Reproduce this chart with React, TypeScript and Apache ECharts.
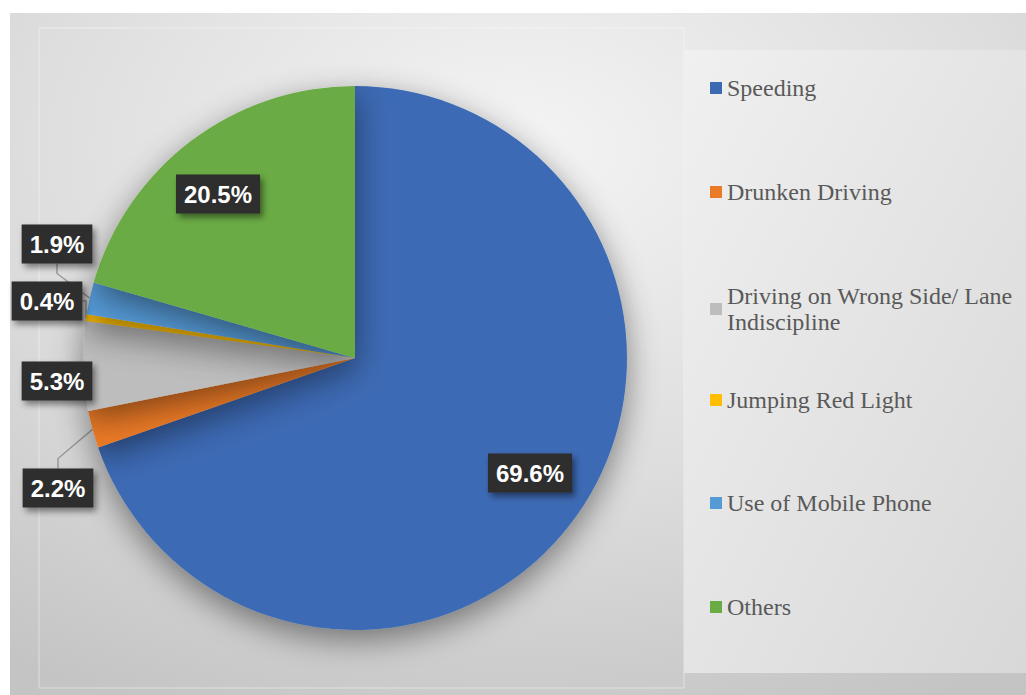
import React, { useEffect, useRef } from "react";
import * as echarts from "echarts";

const categories = [
  "Speeding",
  "Drunken Driving",
  "Driving on Wrong Side/ Lane Indiscipline",
  "Jumping Red Light",
  "Use of Mobile Phone",
  "Others",
];
const legendLabels = [
  "Speeding",
  "Drunken Driving",
  "Driving on Wrong Side/ Lane\nIndiscipline",
  "Jumping Red Light",
  "Use of Mobile Phone",
  "Others",
];
const shares = [69.6, 2.2, 5.3, 0.4, 1.9, 20.5];
const colors = ["#3C6BB4", "#EB7A26", "#BDBDBD", "#FFBF00", "#5599D5", "#6AAB44"];
// label box centres (style)
const labelPos: [number, number][] = [
  [530, 473],
  [58, 488],
  [57, 381],
  [47, 301],
  [57, 244],
  [218, 194],
];
const insideLabel = [true, false, false, false, false, true];
const legendTops = [70, 174, 265, 382, 485, 589];

export default function App() {
  const ref = useRef<HTMLDivElement>(null);
  useEffect(() => {
    document.body.style.margin = "0";
    const chart = echarts.init(ref.current!, null, { renderer: "svg" });
    const legends = categories.map((name, i) => ({
      data: [name],
      orient: "vertical" as const,
      left: 705,
      top: legendTops[i],
      icon: "rect",
      itemWidth: 12,
      itemHeight: 12,
      itemGap: 6,
      selectedMode: false,
      formatter: () => legendLabels[i],
      textStyle: {
        fontFamily: "'Liberation Serif', 'Times New Roman', serif",
        fontSize: 24,
        color: "#595959",
        lineHeight: 26,
        padding: legendLabels[i].includes("\n") ? [26, 0, 0, 0] : 0,
      },
    }));
    chart.setOption({
      animation: false,
      graphic: [
        {
          type: "rect",
          z: -10,
          shape: { x: 10, y: 13, width: 1016, height: 682 },
          style: {
            fill: new echarts.graphic.RadialGradient(0.5, 0.2, 0.9, [
              { offset: 0, color: "#f4f4f4" },
              { offset: 0.55, color: "#dddddd" },
              { offset: 1, color: "#c4c4c4" },
            ]),
          },
        },
        {
          type: "rect",
          z: -9,
          shape: { x: 39, y: 28, width: 645, height: 660 },
          style: { fill: "transparent", stroke: "rgba(255,255,255,0.45)", lineWidth: 1 },
        },
        {
          type: "rect",
          z: -9,
          shape: { x: 684, y: 50, width: 342, height: 623 },
          style: {
            fill: new echarts.graphic.LinearGradient(0, 0, 1, 1, [
              { offset: 0, color: "#f0f0f0" },
              { offset: 1, color: "#d8d8d8" },
            ]),
          },
        },
      ],
      legend: legends,
      series: [
        {
          type: "pie",
          center: [355, 358],
          radius: 272,
          startAngle: 90,
          clockwise: true,
          avoidLabelOverlap: false,
          itemStyle: {
            shadowBlur: 32,
            shadowColor: "rgba(0,0,0,0.45)",
            shadowOffsetY: 10,
          },
          label: {
            formatter: (p: any) => p.value.toFixed(1) + "%",
            color: "#ffffff",
            fontFamily: "'Liberation Sans', Arial, sans-serif",
            fontWeight: "bold",
            fontSize: 24,
            lineHeight: 26,
            backgroundColor: "#2d2d2d",
            padding: [7, 8, 6, 8],
            shadowBlur: 6,
            shadowOffsetX: 3,
            shadowOffsetY: 4,
            shadowColor: "rgba(0,0,0,0.45)",
          },
          labelLine: {
            length: 10,
            length2: 10,
            lineStyle: { color: "#9a9a9a", width: 1.5 },
          },
          labelLayout: (params: any) => {
            const [x, y] = labelPos[params.dataIndex];
            return { x, y, align: "center", verticalAlign: "middle" };
          },
          data: categories.map((name, i) => ({
            name,
            value: shares[i],
            itemStyle: { color: colors[i] },
            label: { position: insideLabel[i] ? "inside" : "outside" },
            labelLine: { show: !insideLabel[i] },
          })),
        },
      ],
    });
    return () => chart.dispose();
  }, []);
  return <div ref={ref} style={{ width: 1026, height: 695 }} />;
}
